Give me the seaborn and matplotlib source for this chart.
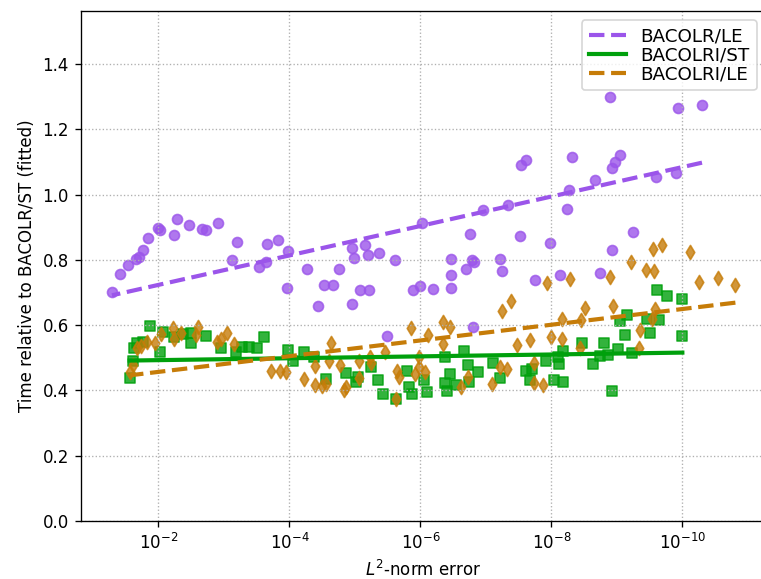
import numpy as np
import matplotlib
matplotlib.use("Agg")
import matplotlib.pyplot as plt
import seaborn as sns

# log10 of the L2-norm error and run time relative to BACOLR/ST (fitted)
le_logerr = [-1.29, -1.42, -1.53, -1.66, -1.71, -1.76, -1.84, -2.00, -2.02, -2.23,
             -2.29, -2.46, -2.67, -2.73, -2.91, -3.20, -3.13, -3.53, -3.64, -3.66,
             -3.82, -3.98, -3.97, -4.27, -4.43, -4.53, -4.67, -4.76, -4.96, -4.98,
             -4.96, -5.16, -5.20, -5.08, -5.21, -5.37, -5.61, -5.88, -6.00, -6.02,
             -6.19, -6.46, -6.46, -6.46, -6.70, -6.79, -6.82, -6.76, -6.95, -7.22,
             -7.25, -7.34, -7.52, -7.54, -7.61, -8.32, -8.27, -8.24, -8.67, -8.92,
             -8.97, -9.05, -8.90, -9.60, -9.90, -9.94, -10.30, -7.98, -9.24, -8.93,
             -7.75, -8.13, -8.74, -5.49, -6.80]
le_time = [0.702, 0.756, 0.783, 0.803, 0.810, 0.830, 0.868, 0.898, 0.891, 0.877,
           0.926, 0.906, 0.895, 0.892, 0.914, 0.856, 0.800, 0.778, 0.793, 0.848,
           0.861, 0.826, 0.714, 0.771, 0.657, 0.723, 0.723, 0.771, 0.665, 0.805,
           0.837, 0.845, 0.815, 0.708, 0.708, 0.820, 0.799, 0.706, 0.719, 0.912,
           0.711, 0.803, 0.753, 0.713, 0.772, 0.800, 0.794, 0.880, 0.952, 0.801,
           0.766, 0.968, 0.872, 1.090, 1.106, 1.116, 1.014, 0.956, 1.043, 1.081,
           1.101, 1.120, 1.299, 1.053, 1.065, 1.264, 1.275, 0.851, 0.884, 0.830,
           0.738, 0.752, 0.761, 0.567, 0.593]
# fitted trend for BACOLR/LE: time = a + b * log10(err)
le_fit_intercept = 0.633
le_fit_slope = -0.0451

ri_st_logerr = [-1.87, -1.67, -1.62, -1.61, -1.56, -1.77, -2.03, -2.07, -2.23, -2.38,
                -2.50, -2.49, -2.72, -2.96, -3.18, -3.28, -3.38, -3.51, -3.61, -3.98,
                -4.05, -4.22, -4.37, -4.56, -4.87, -5.02, -5.04, -5.25, -5.36, -5.43,
                -5.63, -5.79, -5.82, -5.87, -6.06, -6.10, -6.37, -6.37, -6.40, -6.45,
                -6.54, -6.66, -6.72, -6.74, -6.88, -7.11, -7.21, -7.61, -7.68, -7.71,
                -7.92, -8.04, -8.18, -8.10, -8.11, -8.17, -8.47, -8.63, -8.81, -8.75,
                -8.87, -9.02, -8.93, -9.13, -9.05, -9.16, -9.23, -9.51, -9.46, -9.64,
                -9.61, -9.77, -10.00, -9.99]
ri_st_time = [0.598, 0.544, 0.529, 0.490, 0.437, 0.547, 0.519, 0.580, 0.565, 0.572,
              0.544, 0.575, 0.568, 0.529, 0.519, 0.534, 0.534, 0.529, 0.565, 0.524,
              0.490, 0.519, 0.503, 0.435, 0.453, 0.425, 0.440, 0.471, 0.431, 0.389,
              0.373, 0.459, 0.410, 0.388, 0.432, 0.394, 0.503, 0.424, 0.398, 0.450,
              0.417, 0.521, 0.479, 0.427, 0.456, 0.483, 0.438, 0.460, 0.432, 0.465,
              0.491, 0.433, 0.427, 0.502, 0.481, 0.522, 0.544, 0.480, 0.544, 0.506,
              0.509, 0.528, 0.398, 0.569, 0.613, 0.630, 0.516, 0.575, 0.620, 0.616,
              0.706, 0.689, 0.681, 0.568]

ri_le_logerr = [-1.61, -1.57, -1.67, -1.73, -1.83, -1.95, -2.04, -2.22, -2.24, -2.34,
                -2.58, -2.60, -2.90, -2.95, -3.05, -3.16, -3.72, -3.86, -3.95, -4.23,
                -4.39, -4.39, -4.49, -4.56, -4.60, -4.63, -4.77, -4.83, -4.87, -5.06,
                -5.07, -5.23, -5.24, -5.46, -5.62, -5.65, -5.67, -5.85, -5.91, -5.98,
                -5.98, -6.07, -6.11, -6.34, -6.35, -6.45, -6.62, -6.72, -7.10, -7.21,
                -7.33, -7.24, -7.39, -7.48, -7.67, -7.73, -7.73, -7.87, -7.94, -8.00,
                -8.16, -8.16, -8.29, -8.44, -8.46, -8.51, -8.90, -8.94, -9.22, -9.35,
                -9.34, -9.44, -9.57, -9.55, -9.69, -9.58, -9.53, -10.12, -10.25, -10.55,
                -10.81]
ri_le_time = [0.478, 0.457, 0.529, 0.536, 0.547, 0.544, 0.572, 0.592, 0.557, 0.575,
              0.569, 0.593, 0.547, 0.558, 0.575, 0.541, 0.460, 0.460, 0.456, 0.434,
              0.475, 0.417, 0.414, 0.420, 0.490, 0.544, 0.477, 0.401, 0.410, 0.491,
              0.439, 0.503, 0.485, 0.517, 0.375, 0.460, 0.442, 0.591, 0.450, 0.502,
              0.473, 0.456, 0.571, 0.609, 0.541, 0.595, 0.411, 0.442, 0.419, 0.473,
              0.466, 0.642, 0.673, 0.540, 0.555, 0.483, 0.422, 0.417, 0.728, 0.563,
              0.558, 0.620, 0.742, 0.531, 0.616, 0.653, 0.747, 0.659, 0.793, 0.585,
              0.531, 0.769, 0.766, 0.832, 0.846, 0.650, 0.620, 0.825, 0.732, 0.744,
              0.723]

PURPLE = "#9b55ea"
GREEN = "#00a00c"
ORANGE = "#c67c08"
LW = 2.5

fig = plt.figure(figsize=(761 / 120, 579 / 120), dpi=120)
ax = fig.add_axes([0.1058, 0.1002, 0.901, 0.8813])

# BACOLR/LE: scatter plus the fitted trend
le_err = 10.0 ** np.array(le_logerr)
sns.regplot(x=le_err, y=np.array(le_time), fit_reg=False, marker="o",
            color=PURPLE, ax=ax)
grid = np.logspace(min(le_logerr), max(le_logerr), 50)
ax.plot(grid, le_fit_intercept + le_fit_slope * np.log10(grid),
        color=PURPLE, ls="--", lw=LW, label="BACOLR/LE")

# BACOLRI runs: scatter with a log-x least-squares fit
for label, logerr, time, marker, color, ls in [
    ("BACOLRI/ST", ri_st_logerr, ri_st_time, "s", GREEN, "-"),
    ("BACOLRI/LE", ri_le_logerr, ri_le_time, "d", ORANGE, "--"),
]:
    err = 10.0 ** np.array(logerr)
    sns.regplot(x=err, y=np.array(time), logx=True, ci=None, marker=marker,
                color=color, ax=ax,
                line_kws=dict(ls=ls, lw=LW, label=label))

ax.set_xscale("log")
ax.set_xlim(10 ** -0.81, 10 ** -11.28)
ax.set_xticks([1e-2, 1e-4, 1e-6, 1e-8, 1e-10])
ax.xaxis.set_minor_locator(matplotlib.ticker.NullLocator())
ax.set_ylim(0, 1.563)
ax.set_yticks(np.arange(0, 1.41, 0.2))
ax.grid(ls=":", color="#b0b0b0")
ax.set_xlabel("$L^2$-norm error")
ax.set_ylabel("Time relative to BACOLR/ST (fitted)")
ax.legend(loc="upper right", fontsize=11, labelspacing=0.05)

fig.savefig("out.png", dpi=120)
